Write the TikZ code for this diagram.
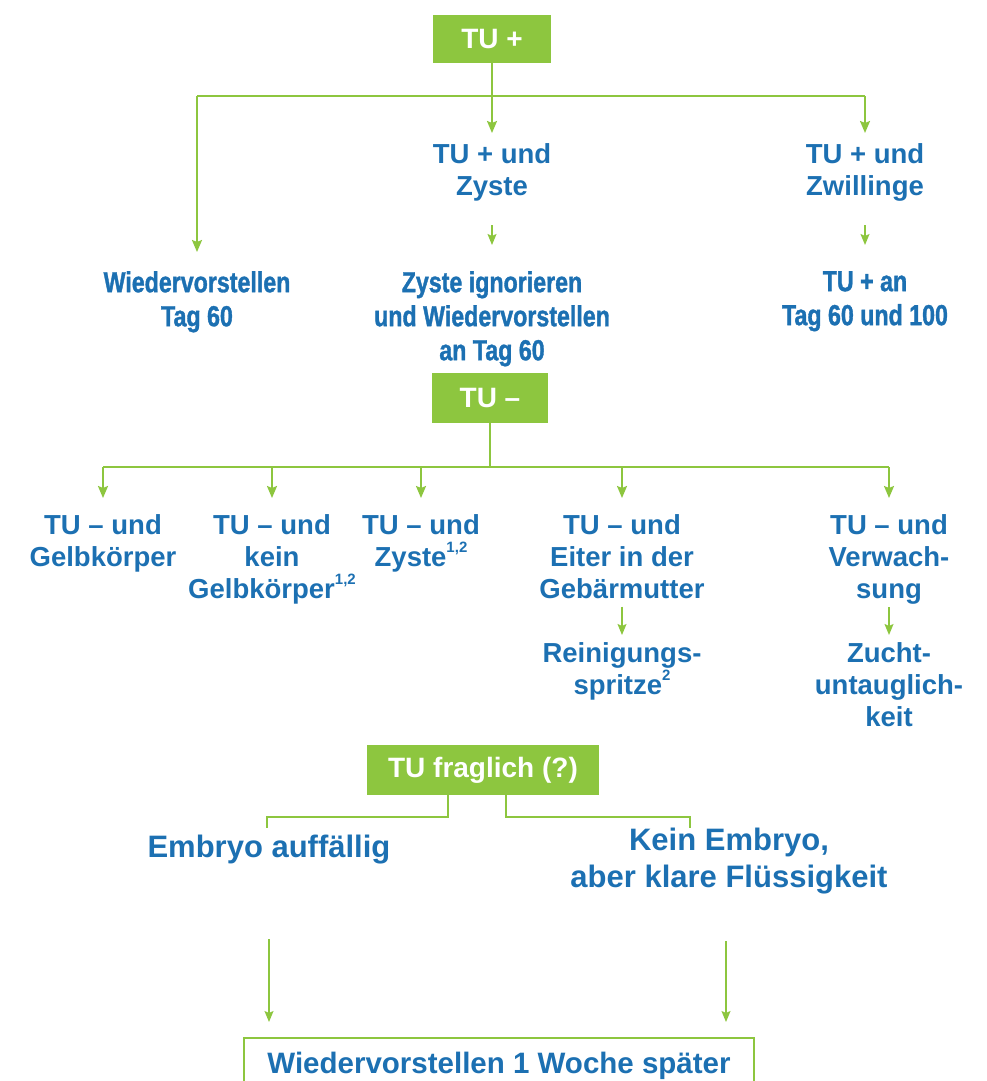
\documentclass[tikz,border=0pt]{standalone}
\usepackage{fontspec}
\setmainfont{Liberation Sans}
\newfontfamily\condfont{Liberation Sans}[FakeStretch=0.8, FakeBold=1.2]
\usepackage{xcolor}
\usetikzlibrary{arrows.meta,positioning,calc}

\definecolor{tugreen}{HTML}{8DC63F}
\definecolor{tublue}{HTML}{1C70B2}

\newcommand{\fnmark}[1]{\raisebox{0.5em}{\fontsize{15}{15}\selectfont #1}}

\tikzset{
    headbox/.style={fill=tugreen, text=white, inner sep=0pt, minimum height=48pt,
        font=\fontsize{28}{32}\selectfont\bfseries},
    casetext/.style={text=tublue, align=center, inner sep=0pt,
        font=\fontsize{27.5}{32}\selectfont\bfseries},
    resulttext/.style={casetext, font=\condfont\fontsize{29}{34}\selectfont\bfseries},
    questtext/.style={casetext, font=\fontsize{31}{37}\selectfont\bfseries},
    caseline/.style={tugreen, line width=2pt},
    casearrow/.style={caseline, -{Stealth[length=12pt,width=10pt,inset=2pt]}},
    smallarrow/.style={tugreen, line width=1.4pt, -{Stealth[length=11pt,width=9pt,inset=2pt]}},
    qline/.style={tugreen, line width=1.4pt},
}

\begin{document}
\begin{tikzpicture}[x=1pt, y=-1pt]
    \clip (0,0) rectangle (986,1081);

    % TU positiv
    \node[headbox, minimum width=118pt] (tuplus) at (492,39) {TU +};
    \coordinate (plusbar) at (492,96);

    \node[casetext, anchor=north] (pzyste) at (492,143) {TU + und\\Zyste};
    \node[casetext, anchor=north] (pzwill) at (865,143) {TU + und\\Zwillinge};
    \node[resulttext, anchor=north] (rwieder) at (197,271) {Wiedervorstellen\\Tag 60};
    \node[resulttext, anchor=north] (rzyste) at (492,271) {Zyste ignorieren\\und Wiedervorstellen\\an Tag 60};
    \node[resulttext, anchor=north] (rzwill) at (865,271) {TU + an\\Tag 60 und 100};

    \draw[caseline] (tuplus.south) -- (plusbar);
    \draw[caseline] (rwieder.north |- plusbar) -- (pzwill.north |- plusbar);
    \draw[casearrow, shorten >=10pt] (plusbar) -- (pzyste.north);
    \draw[casearrow, shorten >=10pt] (pzwill.north |- plusbar) -- (pzwill.north);
    \draw[casearrow, shorten >=19pt] (rwieder.north |- plusbar) -- (rwieder.north);
    \foreach \a/\b in {pzyste/rzyste, pzwill/rzwill} {
        \draw[smallarrow, shorten <=24pt, shorten >=26pt] (\a.south) -- (\b.north);
    }

    % TU negativ
    \node[headbox, minimum width=116pt, minimum height=50pt] (tuminus) at (490,398) {TU --};
    \coordinate (minusbar) at (490,467);

    \node[casetext, anchor=north] (gelb) at (103,514) {TU -- und\\Gelbkörper};
    \node[casetext, anchor=north] (keingelb) at (272,514) {TU -- und\\kein\\Gelbkörper\fnmark{1,2}};
    \node[casetext, anchor=north] (zyste) at (421,514) {TU -- und\\Zyste\fnmark{1,2}};
    \node[casetext, anchor=north] (eiter) at (622,514) {TU -- und\\Eiter in der\\Gebärmutter};
    \node[casetext, anchor=north] (verw) at (889,514) {TU -- und\\Verwach-\\sung};
    \node[casetext, anchor=north] (spritze) at (622,642) {Reinigungs-\\spritze\fnmark{2}};
    \node[casetext, anchor=north] (zucht) at (889,642) {Zucht-\\untauglich-\\keit};

    \draw[caseline] (tuminus.south) -- (minusbar);
    \draw[caseline] (gelb.north |- minusbar) -- (verw.north |- minusbar);
    \foreach \n in {gelb, keingelb, zyste, eiter, verw} {
        \draw[casearrow, shorten >=16pt] (\n.north |- minusbar) -- (\n.north);
    }
    \draw[smallarrow, shorten <=8pt, shorten >=7pt] (eiter.south) -- (spritze.north);
    \draw[smallarrow, shorten <=3pt, shorten >=7pt] (verw.south) -- (zucht.north);

    % TU fraglich
    \node[headbox, minimum width=232pt, minimum height=50pt] (tuq) at (483,770) {TU fraglich (?)};
    \coordinate (qa) at (267,828);
    \coordinate (qb) at (690,828);

    \node[questtext, anchor=north] (embryo) at (269,835) {Embryo auffällig};
    \node[questtext, anchor=north] (fluessig) at (729,828) {Kein Embryo,\\aber klare Flüssigkeit};

    \draw[qline] ([xshift=-35pt]tuq.south) |- ([yshift=11pt]qa) -- (qa);
    \draw[qline] ([xshift=23pt]tuq.south) |- ([yshift=11pt]qb) -- (qb);

    % Ergebnis
    \node[draw=tugreen, line width=1.5pt, fill=white, text=tublue, inner sep=0pt,
        minimum width=510pt, minimum height=56pt, anchor=north,
        font=\fontsize{29.5}{34}\selectfont\bfseries] (woche) at (499,1037) {Wiedervorstellen 1 Woche später};

    \draw[smallarrow, shorten <=75pt, shorten >=15pt] (embryo.south) -- (embryo.south |- woche.north);
    \draw[smallarrow, shorten <=47pt, shorten >=15pt] ([xshift=-3pt]fluessig.south) -- ([xshift=-3pt]fluessig.south |- woche.north);
\end{tikzpicture}
\end{document}
